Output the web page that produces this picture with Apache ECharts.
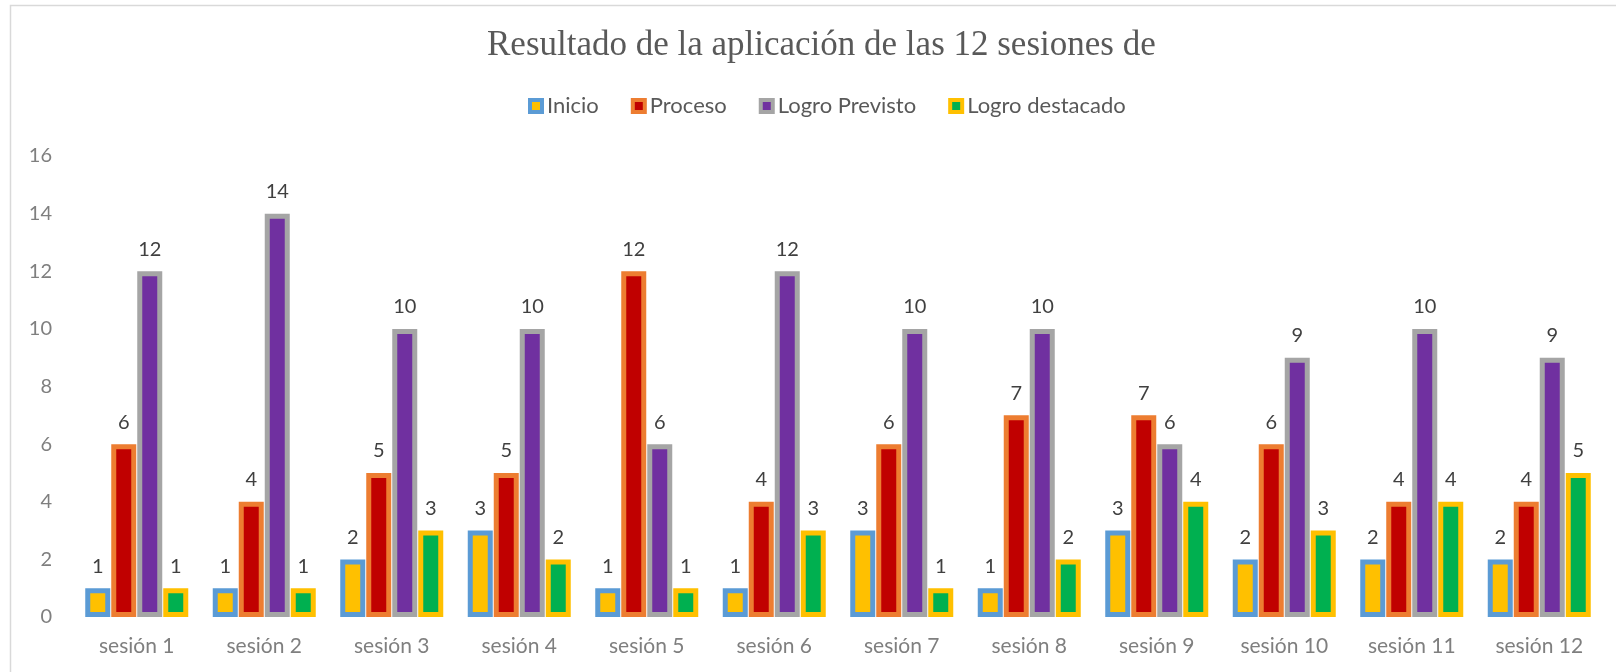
<!DOCTYPE html>
<html>
<head>
<meta charset="utf-8">
<script src="https://cdn.jsdelivr.net/npm/echarts@6/dist/echarts.min.js"></script>
<style>
  html, body { margin: 0; padding: 0; background: #fff; }
  #chart { width: 1616px; height: 672px; }
</style>
</head>
<body>
<div id="chart"></div>
<script>
const categories = ['sesión 1', 'sesión 2', 'sesión 3', 'sesión 4', 'sesión 5', 'sesión 6',
  'sesión 7', 'sesión 8', 'sesión 9', 'sesión 10', 'sesión 11', 'sesión 12'];
const inicio = [1, 1, 2, 3, 1, 1, 3, 1, 3, 2, 2, 2];
const proceso = [6, 4, 5, 5, 12, 4, 6, 7, 7, 6, 4, 4];
const logroPrevisto = [12, 14, 10, 10, 6, 12, 10, 10, 6, 9, 10, 9];
const logroDestacado = [1, 1, 3, 2, 1, 3, 1, 2, 4, 3, 4, 5];
const yTicks = [0, 2, 4, 6, 8, 10, 12, 14, 16];

const chart = echarts.init(document.getElementById('chart'));

// relleno + borde de cada serie (estilo Excel)
const styles = [
  { name: 'Inicio', data: inicio, fill: '#FFC000', border: '#5B9BD5' },
  { name: 'Proceso', data: proceso, fill: '#C00000', border: '#ED7D31' },
  { name: 'Logro Previsto', data: logroPrevisto, fill: '#7030A0', border: '#A5A5A5' },
  { name: 'Logro destacado', data: logroDestacado, fill: '#00B050', border: '#FFC000' },
];

const series = styles.map((s) => ({
  name: s.name,
  type: 'bar',
  data: s.data,
  barWidth: 25,
  barGap: '4%',
  itemStyle: {
    color: s.fill,
    borderColor: s.border,
    borderWidth: 5,
  },
  label: {
    show: true,
    position: 'top',
    distance: 12,
    color: '#404040',
    fontSize: 20,
    fontFamily: 'Lato',
  },
}));

const option = {
  backgroundColor: '#fff',
  animation: false,
  graphic: [{
    type: 'rect',
    shape: { x: 10.5, y: 5.5, width: 1640, height: 700 },
    style: { fill: 'none', stroke: '#d9d9d9', lineWidth: 1.5 },
    silent: true,
  }],
  title: {
    text: 'Resultado de la aplicación de las 12 sesiones de',
    left: 482,
    top: 23,
    textStyle: {
      fontFamily: 'Liberation Serif',
      fontWeight: 'normal',
      fontSize: 35,
      color: '#595959',
    },
  },
  legend: {
    top: 90,
    left: 523,
    itemWidth: 12,
    itemHeight: 12,
    itemGap: 32,
    icon: 'rect',
    textStyle: { color: '#595959', fontSize: 22, fontFamily: 'Lato' },
    data: styles.map((s) => ({
      name: s.name,
      itemStyle: { color: s.fill, borderColor: s.border, borderWidth: 4 },
    })),
  },
  grid: { left: 73, right: 13, top: 156, bottom: 55 },
  xAxis: {
    type: 'category',
    data: categories,
    axisLine: { show: false },
    axisTick: { show: false },
    axisLabel: { color: '#7f7f7f', fontSize: 21, fontFamily: 'Lato', margin: 19 },
  },
  yAxis: {
    type: 'value',
    min: yTicks[0],
    max: yTicks[yTicks.length - 1],
    interval: 2,
    axisLine: { show: false },
    axisTick: { show: false },
    splitLine: { show: false },
    axisLabel: { color: '#7f7f7f', fontSize: 20, fontFamily: 'Lato', margin: 21 },
  },
  series,
};

chart.setOption(option);
</script>
</body>
</html>
